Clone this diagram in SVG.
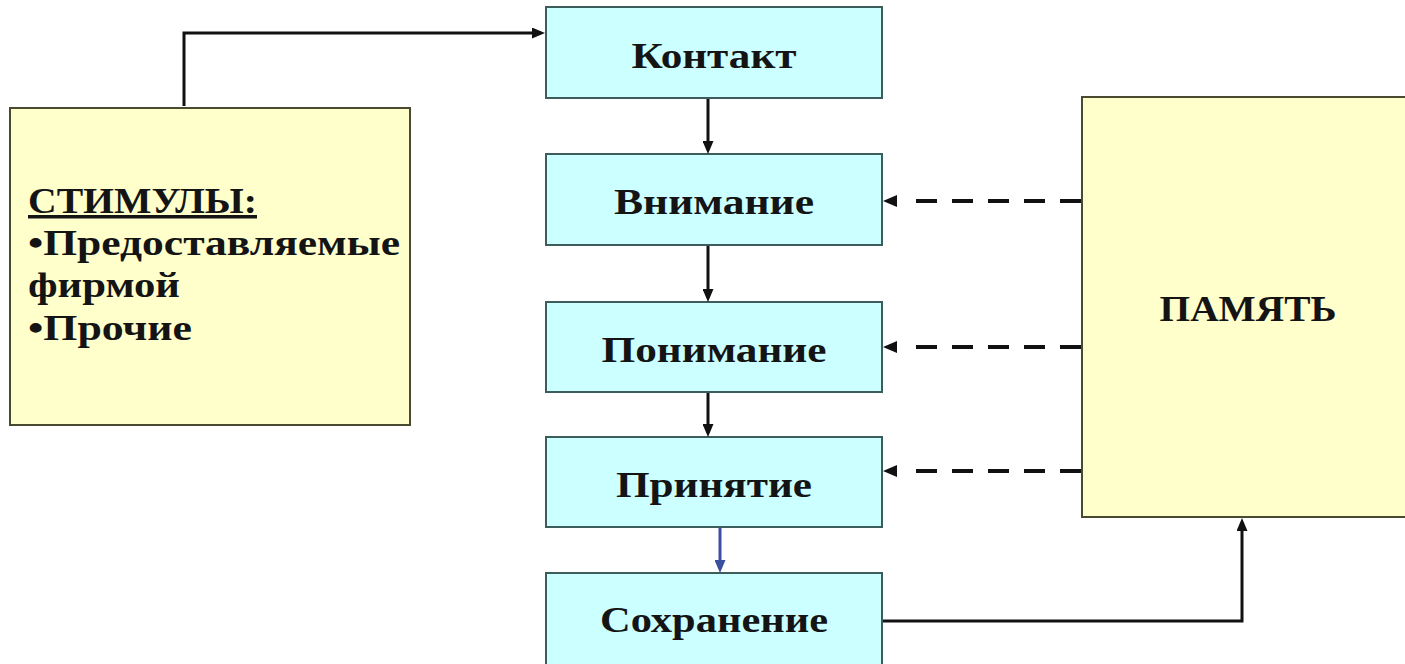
<svg xmlns="http://www.w3.org/2000/svg" width="1405" height="664" viewBox="0 0 1405 664">
<style>
  .cyan { fill: #ccffff; stroke: #3d5c5c; stroke-width: 2; }
  .yellow { fill: #ffffcc; stroke: #4a4a30; stroke-width: 2; }
  text { font-family: "Liberation Serif", "Times New Roman", serif; font-weight: bold; font-size: 35px; fill: #141414; }
  .mid { text-anchor: middle; }
  .solid { fill: none; stroke: #111; stroke-width: 3; }
  .blue { fill: none; stroke: #3b4fa0; stroke-width: 3; }
  .dash { fill: none; stroke: #111; stroke-width: 4; stroke-dasharray: 21 15; }
</style>
<defs>
  <marker id="arr" markerUnits="userSpaceOnUse" markerWidth="13" markerHeight="11" refX="9" refY="5.5" orient="auto">
    <path d="M0,0 L13,5.5 L0,11 z" fill="#111"/>
  </marker>
  <marker id="arrBlue" markerUnits="userSpaceOnUse" markerWidth="13" markerHeight="11" refX="9" refY="5.5" orient="auto">
    <path d="M0,0 L13,5.5 L0,11 z" fill="#3b4fa0"/>
  </marker>
  <marker id="arrDash" markerUnits="userSpaceOnUse" markerWidth="31" markerHeight="12" refX="0" refY="6" orient="auto">
    <path d="M16,0 L30,6 L16,12 z" fill="#111"/>
  </marker>
</defs>
<rect width="1405" height="664" fill="#ffffff"/>

<g id="stimuli">
  <rect class="yellow" x="10" y="108" width="400" height="317"/>
  <text x="28" y="213" textLength="229" lengthAdjust="spacingAndGlyphs" text-decoration="underline">СТИМУЛЫ:</text>
  <text x="28" y="255" textLength="372" lengthAdjust="spacingAndGlyphs">•Предоставляемые</text>
  <text x="28" y="297" textLength="152" lengthAdjust="spacingAndGlyphs">фирмой</text>
  <text x="28" y="340" textLength="164" lengthAdjust="spacingAndGlyphs">•Прочие</text>
</g>

<g id="contact">
  <rect class="cyan" x="546" y="7" width="336" height="91"/>
  <text class="mid" x="714" y="68" textLength="165" lengthAdjust="spacingAndGlyphs">Контакт</text>
</g>
<g id="attention">
  <rect class="cyan" x="546" y="154" width="336" height="91"/>
  <text class="mid" x="714" y="214" textLength="200" lengthAdjust="spacingAndGlyphs">Внимание</text>
</g>
<g id="understanding">
  <rect class="cyan" x="546" y="302" width="336" height="90"/>
  <text class="mid" x="714" y="362" textLength="225" lengthAdjust="spacingAndGlyphs">Понимание</text>
</g>
<g id="acceptance">
  <rect class="cyan" x="546" y="437" width="336" height="90"/>
  <text class="mid" x="714" y="497" textLength="196" lengthAdjust="spacingAndGlyphs">Принятие</text>
</g>
<g id="retention">
  <rect class="cyan" x="546" y="573" width="336" height="96"/>
  <text class="mid" x="714" y="632" textLength="228" lengthAdjust="spacingAndGlyphs">Сохранение</text>
</g>

<g id="memory">
  <rect class="yellow" x="1082" y="97" width="330" height="420"/>
  <text class="mid" x="1248" y="321" textLength="177" lengthAdjust="spacingAndGlyphs">ПАМЯТЬ</text>
</g>

<g id="connectors">
  <path class="solid" d="M184,106 V33 H541" marker-end="url(#arr)"/>
  <path class="solid" d="M708,99 V150" marker-end="url(#arr)"/>
  <path class="solid" d="M708,246 V298" marker-end="url(#arr)"/>
  <path class="solid" d="M708,393 V433" marker-end="url(#arr)"/>
  <path class="blue" d="M720,528 V569" marker-end="url(#arrBlue)"/>
  <path class="solid" d="M883,621 H1242 V522" marker-end="url(#arr)"/>
  <path class="dash" d="M1081,201 H913" marker-end="url(#arrDash)"/>
  <path class="dash" d="M1081,347 H913" marker-end="url(#arrDash)"/>
  <path class="dash" d="M1081,471 H913" marker-end="url(#arrDash)"/>
</g>
</svg>
